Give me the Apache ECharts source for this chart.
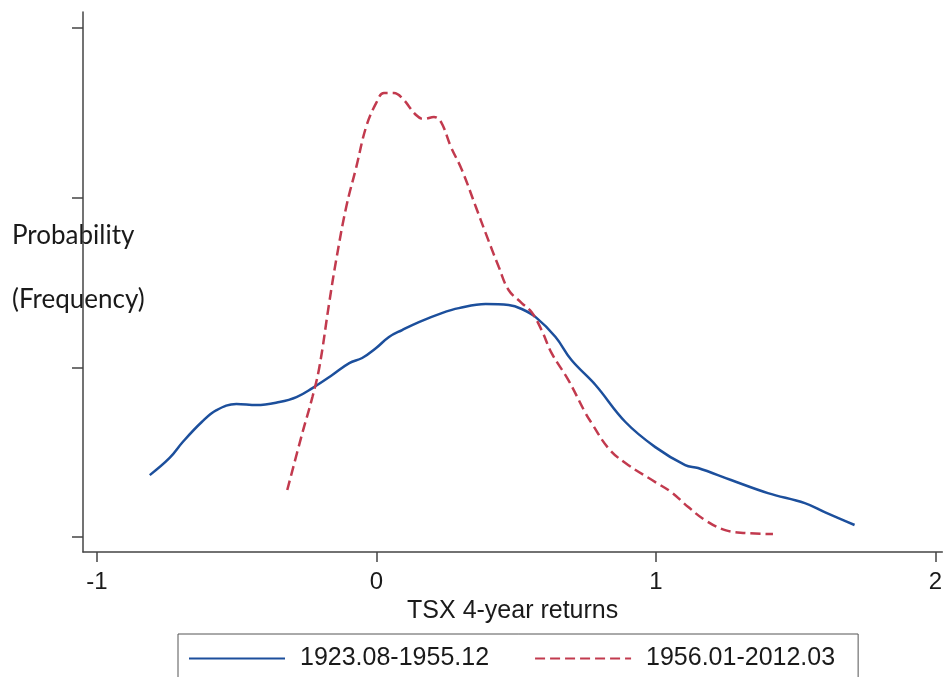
<!DOCTYPE html>
<html>
<head>
<meta charset="utf-8">
<script src="https://cdn.jsdelivr.net/npm/echarts@6/dist/echarts.min.js"></script>
<style>
html,body{margin:0;padding:0;background:#fff;}
#chart{width:945px;height:677px;}
</style>
</head>
<body>
<div id="chart"></div>
<script>
// Series 1: 1923.08-1955.12 (x = 4-year return, y = density, arbitrary units)
const blueX = [-0.811,-0.740,-0.693,-0.625,-0.572,-0.501,-0.429,-0.347,-0.286,-0.229,-0.158,-0.097,-0.051,-0.001,0.045,0.092,0.152,0.234,0.295,0.391,0.473,0.520,0.570,0.641,0.698,0.784,0.891,0.998,1.105,1.151,1.269,1.401,1.533,1.604,1.711];
const blueY = [0.365,0.466,0.560,0.678,0.748,0.784,0.778,0.796,0.825,0.878,0.955,1.025,1.055,1.114,1.179,1.220,1.267,1.320,1.349,1.373,1.367,1.344,1.296,1.179,1.043,0.896,0.678,0.530,0.424,0.407,0.336,0.259,0.200,0.147,0.071];
// Series 2: 1956.01-2012.03
const redX = [-0.319,-0.265,-0.229,-0.204,-0.169,-0.144,-0.108,-0.072,-0.037,-0.001,0.027,0.063,0.092,0.142,0.170,0.206,0.231,0.267,0.306,0.356,0.391,0.438,0.473,0.520,0.555,0.591,0.627,0.687,0.748,0.770,0.830,0.891,0.998,1.055,1.116,1.176,1.248,1.319,1.419];
const redY = [0.277,0.613,0.825,1.002,1.379,1.632,1.945,2.180,2.416,2.557,2.616,2.616,2.587,2.487,2.463,2.475,2.446,2.298,2.163,1.945,1.791,1.591,1.456,1.379,1.326,1.220,1.084,0.925,0.731,0.672,0.524,0.436,0.324,0.265,0.177,0.100,0.041,0.024,0.018];
const seriesNames = ['1923.08-1955.12','1956.01-2012.03'];
const xTicks = [-1,0,1,2];
const yTicks = [0,1,2,3];
const xTitle = 'TSX 4-year returns';
const yTitle1 = 'Probability';
const yTitle2 = '(Frequency)';

const zip = (xs, ys) => xs.map((x, i) => [x, ys[i]]);
const axisColor = '#444444';
const chart = echarts.init(document.getElementById('chart'), null, {renderer: 'canvas'});
chart.setOption({
  animation: false,
  backgroundColor: '#ffffff',
  grid: {left: 83, right: 0, top: 12, bottom: 125, containLabel: false},
  xAxis: {
    type: 'value', min: -1.0499, max: 2.025,
    axisLine: {show: true, onZero: false, lineStyle: {color: axisColor, width: 1.5}},
    axisTick: {show: true, length: 10, customValues: xTicks, lineStyle: {color: axisColor, width: 1.5}},
    axisLabel: {customValues: xTicks, margin: 18, fontFamily: 'Liberation Sans', fontSize: 24, color: '#1a1a1a'},
    splitLine: {show: false},
    name: xTitle, nameLocation: 'middle', nameGap: 41,
    nameTextStyle: {fontFamily: 'Liberation Sans', fontSize: 25, color: '#1a1a1a'}
  },
  yAxis: {
    type: 'value', min: -0.088, max: 3.094,
    axisLine: {show: true, onZero: false, lineStyle: {color: axisColor, width: 1.5}},
    axisTick: {show: true, length: 11, customValues: yTicks, lineStyle: {color: axisColor, width: 1.5}},
    axisLabel: {show: false},
    splitLine: {show: false}
  },
  legend: {
    left: 178, top: 634,
    padding: [12, 23, 40, 10],
    borderColor: '#555', borderWidth: 1,
    itemWidth: 96, itemHeight: 14, itemGap: 45,
    itemStyle: {opacity: 0},
    textStyle: {fontFamily: 'Liberation Sans', fontSize: 25, color: '#1a1a1a', padding: [0, 0, 0, 10]},
    data: seriesNames
  },
  graphic: [
    {type: 'text', left: 12, top: 223, z: -1, style: {text: yTitle1, font: '26px Lato', fill: '#1a1a1a'}},
    {type: 'text', left: 12, top: 287, z: -1, style: {text: yTitle2, font: '26px Lato', fill: '#1a1a1a'}}
  ],
  series: [
    {name: seriesNames[0], type: 'line', smooth: 0.4, showSymbol: false, symbol: 'none',
     data: zip(blueX, blueY), lineStyle: {color: '#1c4f9c', width: 2.5}, itemStyle: {color: '#1c4f9c'}},
    {name: seriesNames[1], type: 'line', smooth: 0.4, showSymbol: false, symbol: 'none',
     data: zip(redX, redY), lineStyle: {color: '#c23a4e', width: 2.5, type: [10, 5]}, itemStyle: {color: '#c23a4e'}}
  ]
});
</script>
</body>
</html>
